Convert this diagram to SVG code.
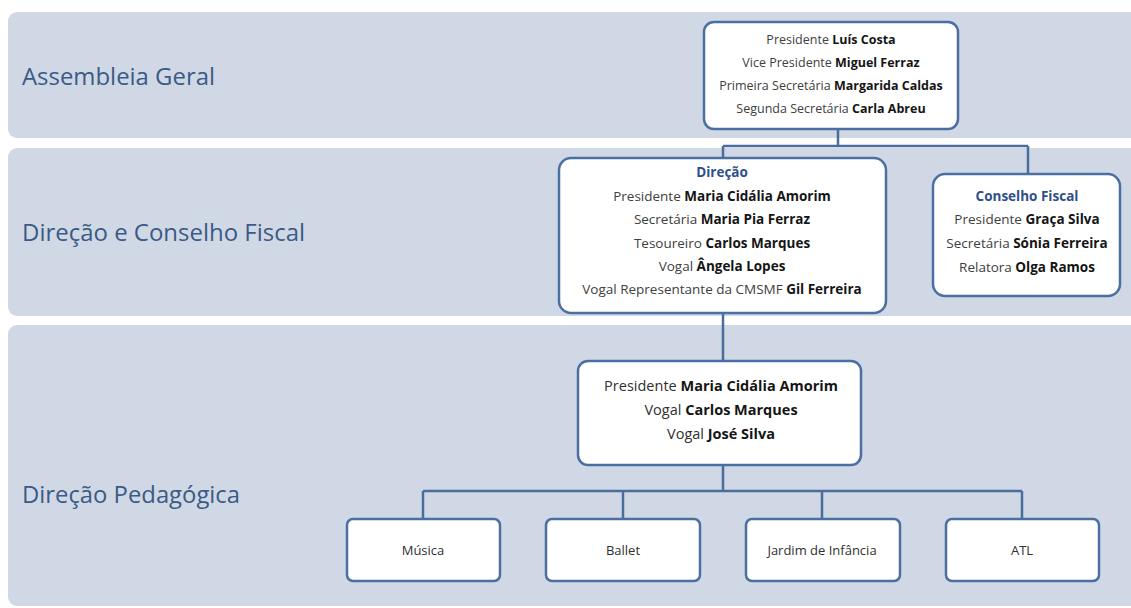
<svg xmlns="http://www.w3.org/2000/svg" width="1131" height="608" viewBox="0 0 1131 608">
<style>
.band{fill:#d0d8e6}
.box{fill:#ffffff;stroke:#4a6fa0;stroke-width:2.5}
.lbl{font-family:"Open Sans","Noto Sans",sans-serif;font-size:23.5px;fill:#3b5a85}
.t{font-family:"Open Sans","Noto Sans",sans-serif;font-size:12.5px;fill:#404040;text-anchor:middle}
.d{font-size:13.5px}
.t2{font-family:"Open Sans","Noto Sans",sans-serif;font-size:14.5px;fill:#303030;text-anchor:middle}
.t3{font-family:"Open Sans","Noto Sans",sans-serif;font-size:13px;fill:#303030;text-anchor:middle}
.b{font-weight:bold;fill:#151515}
.h{font-weight:bold;fill:#2f4f8a}
.conn{fill:none;stroke:#4a6d9c;stroke-width:2.5}
</style>
<rect width="1131" height="608" fill="#ffffff"/>
<g id="bands">
<rect class="band" x="8" y="12" width="1140" height="126" rx="9"/>
<rect class="band" x="8" y="148" width="1140" height="168" rx="9"/>
<rect class="band" x="8" y="325" width="1140" height="281" rx="9"/>
<text class="lbl" x="22" y="85" textLength="193" lengthAdjust="spacingAndGlyphs">Assembleia Geral</text>
<text class="lbl" x="22" y="241" textLength="283" lengthAdjust="spacingAndGlyphs">Direção e Conselho Fiscal</text>
<text class="lbl" x="22" y="503" textLength="218" lengthAdjust="spacingAndGlyphs">Direção Pedagógica</text>
</g>
<g id="connectors">
<path class="conn" d="M838,128 V146 M723,146 H1028 M723,146 V158 M1028,146 V174"/>
<path class="conn" d="M723,312 V361"/>
<path class="conn" d="M723,465 V491 M423,491 H1022 M423,491 V519 M623,491 V519 M822,491 V519 M1022,491 V519"/>
</g>
<g id="assembleia">
<rect class="box" x="704" y="22" width="254" height="107" rx="10"/>
<text class="t" x="831" y="44">Presidente <tspan class="b">Luís Costa</tspan></text>
<text class="t" x="831" y="67">Vice Presidente <tspan class="b">Miguel Ferraz</tspan></text>
<text class="t" x="831" y="90">Primeira Secretária <tspan class="b">Margarida Caldas</tspan></text>
<text class="t" x="831" y="113">Segunda Secretária  <tspan class="b">Carla Abreu</tspan></text>
</g>
<g id="direcao">
<rect class="box" x="559" y="158" width="327" height="155" rx="12"/>
<text class="t d" x="722" y="177"><tspan class="h">Direção</tspan></text>
<text class="t d" x="722" y="201">Presidente <tspan class="b">Maria Cidália Amorim</tspan></text>
<text class="t d" x="722" y="224">Secretária <tspan class="b">Maria Pia Ferraz</tspan></text>
<text class="t d" x="722" y="248">Tesoureiro  <tspan class="b">Carlos Marques</tspan></text>
<text class="t d" x="722" y="271">Vogal  <tspan class="b">Ângela Lopes</tspan></text>
<text class="t d" x="722" y="294">Vogal Representante da CMSMF <tspan class="b">Gil Ferreira</tspan></text>
</g>
<g id="conselho">
<rect class="box" x="933" y="174" width="187" height="122" rx="12"/>
<text class="t d" x="1027" y="201"><tspan class="h">Conselho Fiscal</tspan></text>
<text class="t d" x="1027" y="224">Presidente  <tspan class="b">Graça Silva</tspan></text>
<text class="t d" x="1027" y="248">Secretária <tspan class="b">Sónia Ferreira</tspan></text>
<text class="t d" x="1027" y="272">Relatora  <tspan class="b">Olga Ramos</tspan></text>
</g>
<g id="pedagogica">
<rect class="box" x="578" y="361" width="283" height="104" rx="10"/>
<text class="t2" x="721" y="391">Presidente <tspan class="b">Maria Cidália Amorim</tspan></text>
<text class="t2" x="721" y="415">Vogal <tspan class="b">Carlos Marques</tspan></text>
<text class="t2" x="721" y="439">Vogal <tspan class="b">José Silva</tspan></text>
</g>
<g id="musica">
<rect class="box" x="347" y="519" width="153" height="62" rx="6"/>
<text class="t3" x="423" y="555">Música</text>
</g>
<g id="ballet">
<rect class="box" x="546" y="519" width="154" height="62" rx="6"/>
<text class="t3" x="623" y="555">Ballet</text>
</g>
<g id="jardim">
<rect class="box" x="746" y="519" width="154" height="62" rx="6"/>
<text class="t3" x="822" y="555">Jardim de Infância</text>
</g>
<g id="atl">
<rect class="box" x="946" y="519" width="153" height="62" rx="6"/>
<text class="t3" x="1022" y="555">ATL</text>
</g>
</svg>
